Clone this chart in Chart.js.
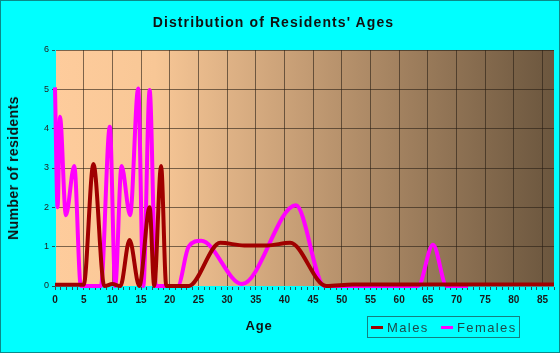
<!DOCTYPE html>
<html>
<head>
<meta charset="utf-8">
<script src="https://cdn.jsdelivr.net/npm/chart.js@4/dist/chart.umd.min.js"></script>
<style>
  html, body { margin: 0; padding: 0; background: #00ffff; }
  #wrap {
    position: relative; width: 560px; height: 353px; box-sizing: border-box;
    border: 1px solid #0a8a8a; overflow: hidden; background: #00ffff;
    font-family: "Liberation Sans", Arial, sans-serif;
  }
  #chart { position: absolute; left: -1px; top: -1px; }
  .txt { position: absolute; color: #111; white-space: nowrap; }
  #title { left: 0; width: 545px; top: 13px; text-align: center; font-size: 14px; font-weight: bold; letter-spacing: 1.1px; }
  #ytitle { left: 12px; top: 167px; font-size: 14px; font-weight: bold; letter-spacing: 0.4px; transform: translate(-50%, -50%) rotate(-90deg); }
  #xtitle { left: 258px; top: 324px; font-size: 13px; font-weight: bold; letter-spacing: 0.8px; transform: translate(-50%, -50%); }
  #legend {
    position: absolute; left: 366px; top: 315px; width: 153px; height: 22px;
    border: 1px solid #138080; box-sizing: border-box;
    font-size: 13px; letter-spacing: 1.4px; color: #1d4a4a;
  }
  #legend span.sw { position: absolute; top: 9px; height: 3px; width: 12px; }
  #legend span.lb { position: absolute; top: 3px; }
</style>
</head>
<body>
<div id="wrap">
  <canvas id="chart" width="560" height="353"></canvas>
  <div id="title" class="txt">Distribution of Residents' Ages</div>
  <div id="ytitle" class="txt">Number of residents</div>
  <div id="xtitle" class="txt">Age</div>
  <div id="legend">
    <span class="sw" style="left:3px;background:#a00000"></span>
    <span class="lb" style="left:19px">Males</span>
    <span class="sw" style="left:73px;background:#ff00ff"></span>
    <span class="lb" style="left:89px">Females</span>
  </div>
</div>
<script>
// Data (age in years, number of residents)
const maleAges   = [0, 5, 6.7, 8.6, 10, 11.4, 13, 14.7, 16.5, 17.3, 18.5, 19.4, 23.3, 28.8, 33, 37, 41, 47.3, 52, 87];
const maleCounts = [0.03, 0.03, 3.1, 0, 0.05, 0, 1.17, 0, 2.0, 0, 3.05, 0, 0, 1.1, 1.03, 1.03, 1.1, 0, 0.04, 0.04];

const femaleAges   = [0, 0.45, 0.87, 1.9, 3.36, 4.5, 8, 9.56, 10.5, 11.6, 13.1, 14.5, 15.4, 16.5, 17.6, 21.4, 23.3, 25.5, 32.6, 42, 47, 63.3, 65.9, 68.3, 72];
const femaleCounts = [5.05, 2, 4.3, 1.8, 3.05, 0, 0, 4.05, 0, 3.05, 1.8, 5.02, 0, 4.98, 0, 0, 1.0, 1.15, 0.05, 2.05, 0, 0, 1.05, 0, 0];

const yTicks = [0, 1, 2, 3, 4, 5, 6];
const xMax = 87;

function toPoints(xs, ys) {
    return xs.map((x, i) => ({ x: x, y: ys[i] }));
}

// Peach-to-brown plot background
const plotBackground = {
    id: 'plotBackground',
    beforeDraw(chart) {
        const { ctx, chartArea: a } = chart;
        const g = ctx.createLinearGradient(a.left, 0, a.right, 0);
        g.addColorStop(0, '#fecc9c');
        g.addColorStop(0.2, '#f8c796');
        g.addColorStop(0.5, '#c49c74');
        g.addColorStop(1, '#6b563e');
        ctx.save();
        ctx.fillStyle = g;
        ctx.fillRect(a.left, a.top, a.right - a.left, a.bottom - a.top);
        ctx.restore();
    }
};

new Chart(document.getElementById('chart'), {
    type: 'line',
    data: {
        datasets: [{
            label: 'Males',
            data: toPoints(maleAges, maleCounts),
            borderColor: '#a00000',
            borderWidth: 4,
            pointRadius: 0,
            cubicInterpolationMode: 'monotone',
            clip: false
        }, {
            label: 'Females',
            data: toPoints(femaleAges, femaleCounts),
            borderColor: '#ff00ff',
            borderWidth: 4,
            pointRadius: 0,
            cubicInterpolationMode: 'monotone',
            clip: false
        }]
    },
    options: {
        responsive: false,
        animation: false,
        layout: { padding: { left: 0, top: 50, right: 6, bottom: 0 } },
        plugins: {
            legend: { display: false },
            title: { display: false },
            tooltip: { enabled: false }
        },
        scales: {
            x: {
                type: 'linear',
                min: 0,
                max: xMax,
                afterFit(scale) { scale.height = 67; },
                border: { color: '#00ffff', width: 1 },
                grid: {
                    color: ctx => (ctx.tick && ctx.tick.value % 5 === 0 && ctx.tick.value > 0) ? 'rgba(40,30,20,0.6)' : 'rgba(0,0,0,0)',
                    tickColor: '#1f5555',
                    tickLength: 4
                },
                ticks: {
                    stepSize: 1,
                    maxTicksLimit: 200,
                    autoSkip: false,
                    maxRotation: 0,
                    padding: 4,
                    color: '#1a1a1a',
                    font: { family: 'Liberation Sans', size: 10, weight: 'bold' },
                    callback: v => (v % 5 === 0 ? String(v) : '')
                }
            },
            y: {
                min: 0,
                max: 6,
                afterFit(scale) { scale.width = 55; },
                afterBuildTicks(scale) { scale.ticks = yTicks.map(v => ({ value: v })); },
                border: { color: '#00ffff', width: 1 },
                grid: {
                    color: ctx => (ctx.tick && ctx.tick.value > 0) ? 'rgba(40,30,20,0.6)' : 'rgba(0,0,0,0)',
                    tickColor: '#1f5555',
                    tickLength: 3
                },
                ticks: {
                    padding: 3,
                    color: '#222',
                    font: { family: 'Liberation Sans', size: 9 }
                }
            }
        }
    },
    plugins: [plotBackground]
});
</script>
</body>
</html>
